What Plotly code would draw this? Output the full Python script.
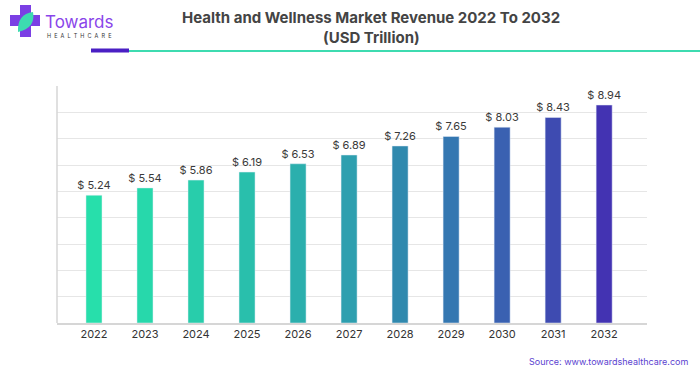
import plotly.graph_objects as go

years = ["2022", "2023", "2024", "2025", "2026", "2027", "2028", "2029", "2030", "2031", "2032"]
revenue = [5.24, 5.54, 5.86, 6.19, 6.53, 6.89, 7.26, 7.65, 8.03, 8.43, 8.94]
labels = ["$ 5.24", "$ 5.54", "$ 5.86", "$ 6.19", "$ 6.53", "$ 6.89", "$ 7.26", "$ 7.65", "$ 8.03", "$ 8.43", "$ 8.94"]
colors = ["#27DFAB", "#27D8AB", "#28CDAB", "#29BFAC", "#2BAFAD", "#2E9FAF", "#3089AE", "#3477B1", "#3A61B1", "#3E4BB1", "#4333B2"]

W, H = 700, 375
L, R, T, B = 57, 647, 86, 323

def px(x):
    return (x - L) / (R - L)

def py(y):
    return (B - y) / (B - T)

fig = go.Figure()
fig.add_trace(go.Bar(
    x=list(range(len(years))), y=revenue, marker_color=colors, width=0.314,
    text=labels, textposition="outside", cliponaxis=False, constraintext="none",
    textfont=dict(family="Inter, Roboto, sans-serif", size=11, color="#3a3a3a"),
    hoverinfo="skip",
))

shapes = [
    dict(type="line", xref="paper", yref="paper", x0=px(129), x1=px(700), y0=py(51), y1=py(51),
         line=dict(color="#3DDBB0", width=2)),
    dict(type="line", xref="paper", yref="paper", x0=px(91), x1=px(129), y0=py(50.5), y1=py(50.5),
         line=dict(color="#4A1FC4", width=4)),
    dict(type="line", xref="paper", yref="paper", x0=0, x1=0, y0=0, y1=1,
         line=dict(color="#d6d6d6", width=1.5)),
    dict(type="rect", xref="paper", yref="paper", x0=px(20), x1=px(31), y0=py(37), y1=py(5),
         fillcolor="#7B3FE4", line=dict(width=0)),
    dict(type="rect", xref="paper", yref="paper", x0=px(10), x1=px(40), y0=py(26), y1=py(15),
         fillcolor="#7B3FE4", line=dict(width=0)),
    dict(type="path", xref="paper", yref="paper",
         path=f"M {px(18)},{py(32)} Q {px(17)},{py(14)} {px(33)},{py(12)} Q {px(36)},{py(28)} {px(18)},{py(32)} Z",
         fillcolor="#3DDBB0", line=dict(width=0)),
]

annotations = [
    dict(text="<b>Health and Wellness Market Revenue 2022 To 2032</b>", xref="paper", yref="paper",
         x=px(371), y=py(17), showarrow=False, xanchor="center", yanchor="middle",
         font=dict(family="Inter, Roboto, sans-serif", size=15, color="#444444")),
    dict(text="<b>(USD Trillion)</b>", xref="paper", yref="paper",
         x=px(371), y=py(37), showarrow=False, xanchor="center", yanchor="middle",
         font=dict(family="Inter, Roboto, sans-serif", size=15, color="#444444")),
    dict(text="Towards", xref="paper", yref="paper", x=px(43), y=py(22), showarrow=False,
         xanchor="left", yanchor="middle",
         font=dict(family="Inter, Roboto, sans-serif", size=17, color="#8A45EA")),
    dict(text="H  E  A  L  T  H  C  A  R  E", xref="paper", yref="paper", x=px(45), y=py(35.5), showarrow=False,
         xanchor="left", yanchor="middle",
         font=dict(family="Inter, Roboto, sans-serif", size=5.5, color="#333333")),
    dict(text="Source: www.towardshealthcare.com", xref="paper", yref="paper", x=px(690), y=py(361),
         showarrow=False, xanchor="right", yanchor="middle",
         font=dict(family="Inter, Roboto, sans-serif", size=9, color="#5B3FD0")),
]

fig.update_layout(
    width=W, height=H,
    margin=dict(l=L, r=W - R, t=T, b=H - B, pad=0),
    paper_bgcolor="white", plot_bgcolor="white",
    showlegend=False,
    shapes=shapes, annotations=annotations,
    xaxis=dict(range=[-0.725, 10.84], tickmode="array", tickvals=list(range(len(years))), ticktext=years,
               showgrid=False, zeroline=False, showline=True, linecolor="#d6d6d6", linewidth=1.5,
               ticks="", tickfont=dict(family="Inter, Roboto, sans-serif", size=11, color="#333333")),
    yaxis=dict(range=[0, 9.72], dtick=1.08, showgrid=True, gridcolor="#e6e6e6", gridwidth=1,
               zeroline=False, showticklabels=False, ticks=""),
)

fig.write_html("out.html", config={"displayModeBar": False},
               post_script="document.body.style.margin='0';document.body.style.padding='0';")
